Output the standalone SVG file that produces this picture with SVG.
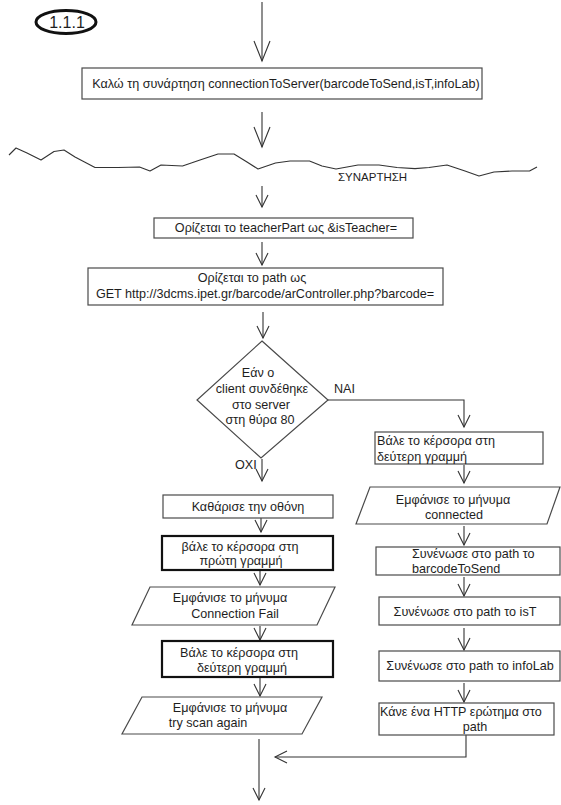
<svg xmlns="http://www.w3.org/2000/svg" width="561" height="805" viewBox="0 0 561 805">
  <defs>
    <style>
      .bg { fill: #ffffff; }
      .box { fill: #ffffff; stroke: #4a4a4a; stroke-width: 1.2; }
      .box-bold { fill: #ffffff; stroke: #111111; stroke-width: 2.2; }
      .edge { fill: none; stroke: #333333; stroke-width: 1.1; }
      .wave { fill: none; stroke: #333333; stroke-width: 1.1; stroke-linejoin: round; }
      .t { font-family: "Liberation Sans", "DejaVu Sans", sans-serif; font-size: 12.6px; fill: #1e1e1e; }
      .c { text-anchor: middle; }
    </style>
    <!-- open V arrowheads -->
    <marker id="arrow-big" markerUnits="userSpaceOnUse" viewBox="-22 -10 24 20" refX="0" refY="0" markerWidth="24" markerHeight="20" orient="auto" overflow="visible">
      <path d="M-20,-8 L0,0 L-20,8" fill="none" stroke="#333333" stroke-width="1.1"/>
    </marker>
    <marker id="arrow" markerUnits="userSpaceOnUse" viewBox="-14 -8 16 16" refX="0" refY="0" markerWidth="16" markerHeight="16" orient="auto" overflow="visible">
      <path d="M-12,-6 L0,0 L-12,6" fill="none" stroke="#333333" stroke-width="1.1"/>
    </marker>
  </defs>

  <rect class="bg" x="0" y="0" width="561" height="805"/>

  <!-- section tag -->
  <g id="tag">
    <ellipse cx="66" cy="22" rx="30" ry="11.5" fill="#ffffff" stroke="#111111" stroke-width="3"/>
    <text class="t c" x="67" y="28" style="font-size:16px">1.1.1</text>
  </g>

  <!-- connectors -->
  <g id="connectors">
    <path class="edge" d="M262,2 V61" marker-end="url(#arrow-big)"/>
    <path class="edge" d="M262,112 V147" marker-end="url(#arrow-big)"/>
    <path class="edge" d="M262,186 V207" marker-end="url(#arrow)"/>
    <path class="edge" d="M262,242 V265" marker-end="url(#arrow)"/>
    <path class="edge" d="M263,312 V338" marker-end="url(#arrow)"/>
    <!-- yes branch -->
    <path class="edge" d="M327,400 H464 V427" marker-end="url(#arrow)"/>
    <!-- no branch -->
    <path class="edge" d="M262,459 V481" marker-end="url(#arrow)"/>
    <path class="edge" d="M261,518 V532" marker-end="url(#arrow)"/>
    <path class="edge" d="M260,571 V585" marker-end="url(#arrow)"/>
    <path class="edge" d="M260,626 V640" marker-end="url(#arrow)"/>
    <path class="edge" d="M260,678 V696" marker-end="url(#arrow)"/>
    <path class="edge" d="M259,739 V800" marker-end="url(#arrow)"/>
    <!-- right column -->
    <path class="edge" d="M464,465 V483" marker-end="url(#arrow)"/>
    <path class="edge" d="M464,526 V545" marker-end="url(#arrow)"/>
    <path class="edge" d="M464,577 V596" marker-end="url(#arrow)"/>
    <path class="edge" d="M464,628 V650" marker-end="url(#arrow)"/>
    <path class="edge" d="M464,683 V702" marker-end="url(#arrow)"/>
    <path class="edge" d="M466,735 V757 H275" marker-end="url(#arrow)"/>
  </g>

  <!-- hand-drawn function separator -->
  <g id="separator">
    <polyline class="wave" points="9,155 16,148 27,153 41,160 54,151.5 64,150 75,157 95,167.5 118,167.5 139.5,167 150,171 161,165 182.5,166 200,160 218,154 234,154 247,162 258,169 275.5,163 290,161 309.5,161 322,166 336,169 358,165 379,165 397,167.5 415,168.6 429,167.5 447,165 465,171 479,176 494,172 512,171 529.5,171 537,167"/>
    <text class="t" x="338" y="181" style="font-size:11.5px">ΣΥΝΑΡΤΗΣΗ</text>
  </g>

  <g id="call">
    <rect class="box" x="82" y="68" width="400" height="31"/>
    <text class="t c" x="286" y="88">Καλώ τη συνάρτηση connectionToServer(barcodeToSend,isT,infoLab)</text>
  </g>

  <g id="teacher-part">
    <rect class="box" x="154" y="218" width="259" height="20"/>
    <text class="t c" x="286" y="232">Ορίζεται το teacherPart ως &amp;isTeacher=</text>
  </g>

  <g id="path-def">
    <rect class="box" x="88" y="268" width="355" height="37"/>
    <text class="t c" x="252" y="282">Ορίζεται το path ως</text>
    <text class="t c" x="265" y="298">GET http://3dcms.ipet.gr/barcode/arController.php?barcode=</text>
  </g>

  <g id="decision">
    <polygon class="box" points="262,341 328,400 261,458 197,400"/>
    <text class="t c" x="258" y="377">Εάν ο</text>
    <text class="t c" x="262" y="393">client συνδέθηκε</text>
    <text class="t c" x="261" y="409">στο server</text>
    <text class="t c" x="260" y="424">στη θύρα 80</text>
    <text class="t" x="334" y="393">ΝΑΙ</text>
    <text class="t" x="235" y="469">ΟΧΙ</text>
  </g>

  <!-- failure branch -->
  <g id="clear-screen">
    <rect class="box" x="163" y="495" width="170" height="23"/>
    <text class="t c" x="248" y="511">Καθάρισε την οθόνη</text>
  </g>
  <g id="cursor-first">
    <rect class="box-bold" x="162" y="536" width="171" height="34"/>
    <text class="t c" x="240" y="551">βάλε το κέρσορα στη</text>
    <text class="t c" x="241" y="565">πρώτη γραμμή</text>
  </g>
  <g id="msg-fail">
    <polygon class="box" points="150,587 335,587 317,625 132,625"/>
    <text class="t c" x="230" y="602">Εμφάνισε το μήνυμα</text>
    <text class="t c" x="235" y="618">Connection Fail</text>
  </g>
  <g id="cursor-second-fail">
    <rect class="box-bold" x="162" y="641" width="171" height="36"/>
    <text class="t c" x="239" y="657">Βάλε το κέρσορα στη</text>
    <text class="t c" x="242" y="672">δεύτερη γραμμή</text>
  </g>
  <g id="msg-retry">
    <polygon class="box" points="142,697 322,697 302,734 122,734"/>
    <text class="t c" x="230" y="712">Εμφάνισε το μήνυμα</text>
    <text class="t c" x="208" y="727">try scan again</text>
  </g>

  <!-- success branch -->
  <g id="cursor-second-ok">
    <rect class="box" x="375" y="432" width="168" height="32"/>
    <text class="t" x="377" y="445">Βάλε το κέρσορα στη</text>
    <text class="t" x="377" y="461">δεύτερη γραμμή</text>
  </g>
  <g id="msg-connected">
    <polygon class="box" points="370,487 560,487 547,524 356,524"/>
    <text class="t c" x="453" y="504">Εμφάνισε το μήνυμα</text>
    <text class="t c" x="454" y="519">connected</text>
  </g>
  <g id="append-barcode">
    <rect class="box" x="376" y="547" width="184" height="28"/>
    <text class="t" x="412" y="558">Συνένωσε στο path το</text>
    <text class="t" x="412" y="573">barcodeToSend</text>
  </g>
  <g id="append-ist">
    <rect class="box" x="379" y="597" width="181" height="28"/>
    <text class="t c" x="465" y="616">Συνένωσε στο path το isT</text>
  </g>
  <g id="append-infolab">
    <rect class="box" x="379" y="651" width="181" height="30"/>
    <text class="t c" x="470" y="670">Συνένωσε στο path το infoLab</text>
  </g>
  <g id="http-request">
    <rect class="box" x="379" y="703" width="175" height="32"/>
    <text class="t" x="380" y="716">Κάνε ένα HTTP ερώτημα στο</text>
    <text class="t c" x="475" y="731">path</text>
  </g>
</svg>
